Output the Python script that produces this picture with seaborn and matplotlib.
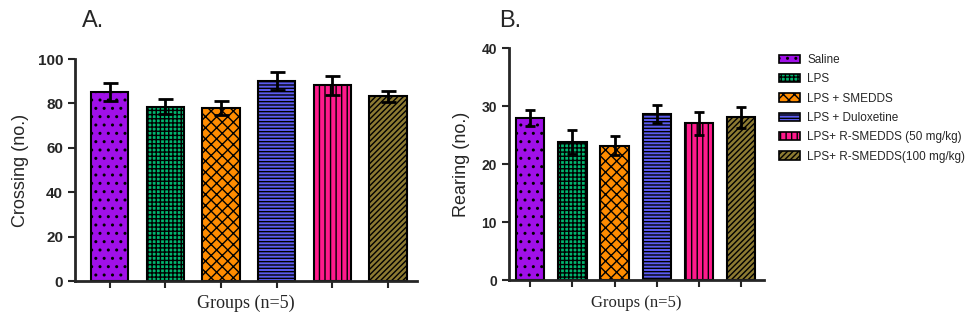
import matplotlib
matplotlib.use('Agg')
import matplotlib.pyplot as plt
import seaborn as sns
import pandas as pd
from matplotlib.patches import Patch

# Data
groups = ['Saline', 'LPS', 'LPS + SMEDDS', 'LPS + Duloxetine',
          'LPS+ R-SMEDDS (50 mg/kg)', 'LPS+ R-SMEDDS(100 mg/kg)']
crossing = [85.1, 78.5, 78.0, 90.1, 88.1, 83.3]
crossing_err = [4.2, 3.3, 3.3, 4.2, 4.2, 2.5]
rearing = [27.9, 23.8, 23.2, 28.6, 27.0, 28.05]
rearing_err = [1.4, 2.1, 1.6, 1.6, 2.0, 1.8]

colors = ['#A010E8', '#00B56E', '#FF8C00', '#5B5BF0', '#FF1A8C', '#8C7A32']
hatches = ['..', '++++', 'xxx', '-----', '|||', '//////']

sns.set_style('ticks')
plt.rcParams['hatch.linewidth'] = 1.0
plt.rcParams['font.family'] = ['Liberation Sans', 'DejaVu Sans']

fig = plt.figure(figsize=(9.69, 3.14), dpi=100)
axA = fig.add_axes([0.0774, 0.105, 0.353, 0.707])
axB = fig.add_axes([0.525, 0.108, 0.263, 0.739])


def draw(ax, vals, errs, ymax, step, cap, xlim, tsize):
    df = pd.DataFrame({'group': groups, 'value': vals})
    sns.barplot(data=df, x='group', y='value', hue='group', order=groups,
                hue_order=groups, palette=colors, width=0.67, saturation=1,
                edgecolor='black', linewidth=1.5, errorbar=None,
                legend=False, ax=ax)
    for p, h in zip(ax.patches, hatches):
        p.set_hatch(h)
    xs = [p.get_x() + p.get_width() / 2 for p in ax.patches]
    ax.errorbar(xs, vals, yerr=errs, fmt='none', ecolor='black',
                elinewidth=2, capsize=cap, capthick=2, zorder=5)
    ax.set_ylim(0, ymax)
    ax.set_xlim(*xlim)
    ax.set_yticks(range(0, ymax + 1, step))
    ax.set_xticks(range(len(groups)))
    ax.set_xticklabels([])
    for lab in ax.get_yticklabels():
        lab.set_fontweight('bold')
        lab.set_fontsize(tsize)
    ax.tick_params(axis='both', width=1.5, length=5, direction='out')
    for s in ['left', 'bottom']:
        ax.spines[s].set_linewidth(2)
    sns.despine(ax=ax)


draw(axA, crossing, crossing_err, 100, 20, 5.4, (-0.62, 5.52), 11)
draw(axB, rearing, rearing_err, 40, 10, 3.6, (-0.51, 5.53), 10)

axA.set_ylabel('Crossing (no.)', fontsize=13, labelpad=6)
axA.set_xlabel('Groups (n=5)', fontsize=13, family=['Liberation Serif'], labelpad=1)
axB.set_ylabel('Rearing (no.)', fontsize=13, labelpad=8)
axB.set_xlabel('Groups (n=5)', fontsize=12, family=['Liberation Serif'], labelpad=2)

fig.text(0.085, 0.915, 'A.', fontsize=17)
fig.text(0.515, 0.915, 'B.', fontsize=17)

handles = [Patch(facecolor=c, edgecolor='black', hatch=h, linewidth=1.2)
           for c, h in zip(colors, hatches)]
fig.legend(handles, groups, loc='upper left', bbox_to_anchor=(0.804, 0.828),
           frameon=False, borderpad=0, borderaxespad=0, handlelength=1.8,
           handleheight=0.7, handletextpad=0.6, labelspacing=0.62,
           prop={'size': 8.5})

fig.savefig('out.png', dpi=100)
